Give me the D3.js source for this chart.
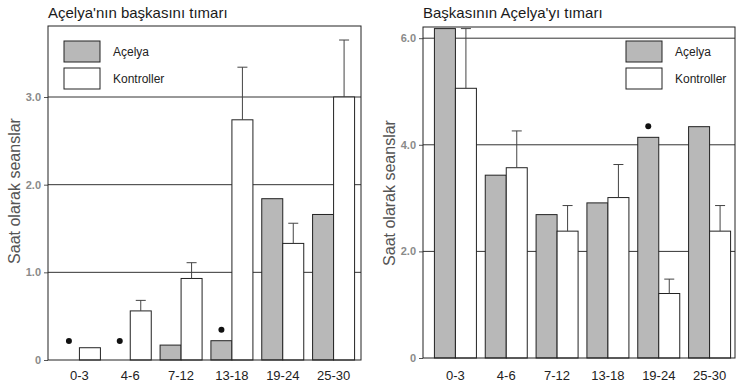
<!DOCTYPE html>
<html>
<head>
<meta charset="utf-8">
<script src="https://cdn.jsdelivr.net/npm/d3@7"></script>
<style>
  body { margin: 0; background: #fff; }
</style>
</head>
<body>
<script>
// age groups (months)
const categories = ['0-3', '4-6', '7-12', '13-18', '19-24', '25-30'];
const legendLabels = ['Açelya', 'Kontroller'];

// left: Açelya grooming others
const acelyaGroomsOthers = [0, 0, 0.17, 0.22, 1.84, 1.66];
const controlGroomsOthers = [0.14, 0.56, 0.93, 2.74, 1.33, 3.0];
const controlGroomsOthersErr = [0.14, 0.68, 1.11, 3.34, 1.56, 3.65];
const sigGroomsOthers = [true, true, false, true, false, false];
const ticksLeft = [0, 1, 2, 3];

// right: others grooming Açelya
const acelyaGroomed = [6.18, 3.43, 2.69, 2.91, 4.14, 4.34];
const controlGroomed = [5.06, 3.57, 2.38, 3.01, 1.21, 2.38];
const controlGroomedErr = [6.18, 4.26, 2.86, 3.63, 1.48, 2.86];
const sigGroomed = [false, false, false, false, true, false];
const ticksRight = [0, 2, 4, 6];

const svg = d3.select('body').append('svg')
  .attr('width', 739)
  .attr('height', 385)
  .style('font-family', '"Liberation Sans", Arial, Helvetica, sans-serif');

function drawPanel(p) {
  const x = d3.scaleBand().domain(categories).range(p.band).padding(0);
  const y = d3.scaleLinear().domain([0, p.yMax]).range([p.bottom, p.top]);
  const bw = 21;
  const g = svg.append('g');

  // title
  g.append('text')
    .attr('x', p.left).attr('y', 18)
    .attr('font-size', 15).attr('fill', '#1a1a1a')
    .text(p.title);

  // y label
  g.append('text')
    .attr('transform', 'translate(' + p.labelX + ',' + p.labelY + ') rotate(-90)')
    .attr('text-anchor', 'middle')
    .attr('font-size', 16).attr('fill', '#555')
    .text('Saat olarak seanslar');

  // horizontal reference lines (behind the bars)
  g.selectAll('.grid').data(p.ticks.filter(d => d > 0)).enter()
    .append('line')
    .attr('x1', p.left).attr('x2', p.right)
    .attr('y1', d => y(d)).attr('y2', d => y(d))
    .attr('stroke', '#333').attr('stroke-width', 1);

  // y axis
  const axis = d3.axisLeft(y)
    .tickValues(p.ticks)
    .tickSize(4)
    .tickPadding(3)
    .tickFormat(d => d === 0 ? '0' : d3.format('.1f')(d));
  const ag = g.append('g').attr('transform', 'translate(' + p.left + ',0)').call(axis);
  ag.select('.domain').remove();
  ag.selectAll('line').attr('stroke', '#555');
  ag.selectAll('text')
    .attr('font-size', 11).attr('font-weight', 'bold')
    .attr('fill', '#8a8a8a')
    .style('font-family', '"Liberation Sans", Arial, sans-serif');

  // Açelya bars (grey)
  g.selectAll('.bar-a').data(p.acelya).enter()
    .append('rect')
    .attr('x', (d, i) => x(categories[i]) + x.bandwidth() / 2 - bw)
    .attr('y', d => y(d))
    .attr('width', bw)
    .attr('height', d => y(0) - y(d))
    .attr('fill', '#b8b8b8')
    .attr('stroke', d => d > 0 ? '#222' : 'none')
    .attr('stroke-width', 1);

  // control bars (white)
  g.selectAll('.bar-c').data(p.control).enter()
    .append('rect')
    .attr('x', (d, i) => x(categories[i]) + x.bandwidth() / 2)
    .attr('y', d => y(d))
    .attr('width', bw)
    .attr('height', d => y(0) - y(d))
    .attr('fill', '#fff')
    .attr('stroke', '#222')
    .attr('stroke-width', 1);

  // error bars on controls
  p.err.forEach((e, i) => {
    if (e <= p.control[i]) return;
    const cx = x(categories[i]) + x.bandwidth() / 2 + bw / 2;
    g.append('line')
      .attr('x1', cx).attr('x2', cx)
      .attr('y1', y(p.control[i])).attr('y2', y(e))
      .attr('stroke', '#444');
    g.append('line')
      .attr('x1', cx - 5).attr('x2', cx + 5)
      .attr('y1', y(e)).attr('y2', y(e))
      .attr('stroke', '#444');
  });

  // significance dots above Açelya bars
  g.selectAll('.dot').data(p.sig.map((s, i) => ({s: s, i: i})).filter(d => d.s)).enter()
    .append('circle')
    .attr('cx', d => x(categories[d.i]) + x.bandwidth() / 2 - bw / 2)
    .attr('cy', d => Math.min(y(p.acelya[d.i]) - 11, y(0) - 19))
    .attr('r', 3)
    .attr('fill', '#111');

  // frame
  g.append('rect')
    .attr('x', p.left).attr('y', p.top)
    .attr('width', p.right - p.left).attr('height', p.bottom - p.top)
    .attr('fill', 'none').attr('stroke', '#222').attr('stroke-width', 1);

  // x labels
  g.selectAll('.xl').data(categories).enter()
    .append('text')
    .attr('x', d => x(d) + x.bandwidth() / 2)
    .attr('y', 380)
    .attr('text-anchor', 'middle')
    .attr('font-size', 13).attr('fill', '#222')
    .text(d => d);

  // legend
  const lg = g.append('g').attr('transform', 'translate(' + p.legendX + ',41)');
  legendLabels.forEach((lab, i) => {
    lg.append('rect')
      .attr('x', 0).attr('y', i * 27)
      .attr('width', 36).attr('height', 21)
      .attr('fill', i === 0 ? '#b8b8b8' : '#fff')
      .attr('stroke', '#222');
    lg.append('text')
      .attr('x', 49).attr('y', i * 27 + 15)
      .attr('font-size', 12).attr('fill', '#222')
      .text(lab);
  });
}

drawPanel({
  title: "Açelya'nın başkasını tımarı",
  left: 48, right: 361, top: 26, bottom: 360,
  band: [54, 359], yMax: 3.81, ticks: ticksLeft,
  acelya: acelyaGroomsOthers, control: controlGroomsOthers,
  err: controlGroomsOthersErr, sig: sigGroomsOthers,
  labelX: 20, labelY: 191, legendX: 64
});

drawPanel({
  title: "Başkasının Açelya'yı tımarı",
  left: 423, right: 735, top: 27, bottom: 358,
  band: [430, 735], yMax: 6.21, ticks: ticksRight,
  acelya: acelyaGroomed, control: controlGroomed,
  err: controlGroomedErr, sig: sigGroomed,
  labelX: 395, labelY: 193, legendX: 626
});
</script>
</body>
</html>
